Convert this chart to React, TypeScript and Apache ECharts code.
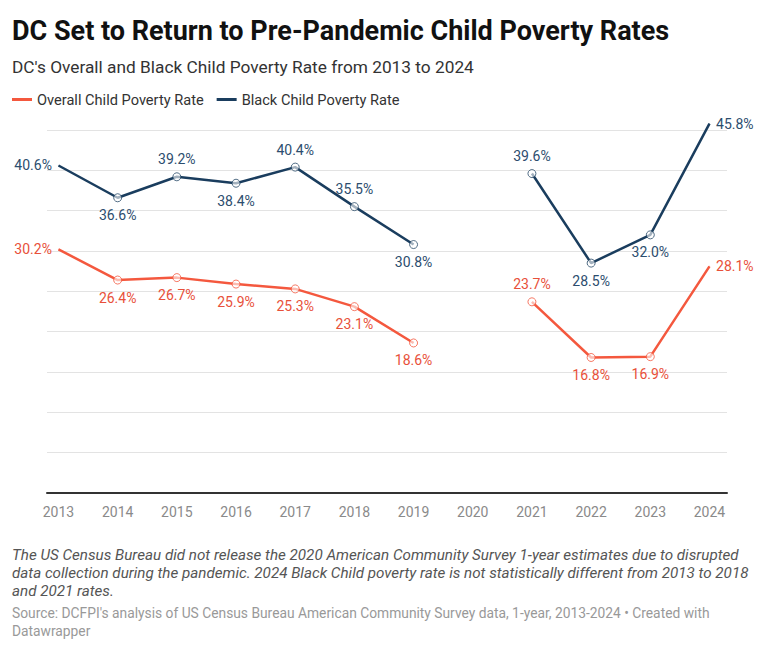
import React, { useEffect, useRef } from "react";
import * as echarts from "echarts";

const years = [2013, 2014, 2015, 2016, 2017, 2018, 2019, 2020, 2021, 2022, 2023, 2024];
const overall: (number | null)[] = [30.2, 26.4, 26.7, 25.9, 25.3, 23.1, 18.6, null, 23.7, 16.8, 16.9, 28.1];
const black: (number | null)[] = [40.6, 36.6, 39.2, 38.4, 40.4, 35.5, 30.8, null, 39.6, 28.5, 32.0, 45.8];
const overallLabelPos = ["left", "bottom", "bottom", "bottom", "bottom", "bottom", "bottom", "", "top", "bottom", "bottom", "right"];
const blackLabelPos = ["left", "bottom", "top", "bottom", "top", "top", "bottom", "", "top", "bottom", "bottom", "right"];

const seriesNames = ["Overall Child Poverty Rate", "Black Child Poverty Rate"];
const title = "DC Set to Return to Pre-Pandemic Child Poverty Rates";
const subtitle = "DC's Overall and Black Child Poverty Rate from 2013 to 2024";
const note =
  "The US Census Bureau did not release the 2020 American Community Survey 1-year estimates due to disrupted\ndata collection during the pandemic. 2024 Black Child poverty rate is not statistically different from 2013 to 2018\nand 2021 rates.";
const source =
  "Source: DCFPI's analysis of US Census Bureau American Community Survey data, 1-year, 2013-2024 • Created with\nDatawrapper";

const RED = "#f4583e";
const RED_TEXT = "#e8503a";
const NAVY = "#1a3d5e";
const NAVY_TEXT = "#2c4d6e";
const FONT = "Roboto, 'Noto Sans', sans-serif";

function buildData(vals: (number | null)[], pos: string[], textColor: string) {
  return vals.map((v, i) => {
    if (v === null) return { value: [years[i], "-"] };
    const isEnd = i === 0 || i === vals.length - 1;
    return {
      value: [years[i], v],
      symbol: "circle",
      symbolSize: isEnd ? 0.1 : 8,
      label: { show: true, position: pos[i], color: textColor },
    };
  });
}

export default function App() {
  const ref = useRef<HTMLDivElement>(null);
  useEffect(() => {
    if (!ref.current) return;
    const chart = echarts.init(ref.current, undefined, { renderer: "svg" });
    const labelBase = {
      show: true,
      fontFamily: FONT,
      fontSize: 14,
      distance: 6,
      formatter: (p: any) => Number(p.value[1]).toFixed(1) + "%",
    };
    const gridColors = ["rgba(0,0,0,0)"].concat(new Array(9).fill("#e3e3e3"));
    chart.setOption({
      animation: false,
      backgroundColor: "#ffffff",
      textStyle: { fontFamily: FONT },
      grid: { left: 47, right: 41, top: 130, bottom: 155 },
      legend: {
        left: 12,
        top: 92,
        padding: 0,
        itemWidth: 20,
        itemHeight: 3,
        itemGap: 13,
        icon: "rect",
        textStyle: { fontFamily: FONT, fontSize: 14.6, color: "#333333" },
        data: [
          { name: seriesNames[0], itemStyle: { color: RED, borderWidth: 0 } },
          { name: seriesNames[1], itemStyle: { color: NAVY, borderWidth: 0 } },
        ],
      },
      xAxis: {
        type: "value",
        min: 2012.806,
        max: 2024.296,
        splitLine: { show: false },
        axisTick: { show: false },
        axisLine: { show: true, lineStyle: { color: "#333333", width: 2 } },
        axisLabel: {
          customValues: years,
          formatter: (v: number) => String(v),
          color: "#8a8a8a",
          fontSize: 14,
          fontFamily: FONT,
          margin: 12,
        },
      },
      yAxis: {
        type: "value",
        min: 0,
        max: 45,
        interval: 5,
        axisLabel: { show: false },
        axisLine: { show: false },
        axisTick: { show: false },
        splitLine: { show: true, lineStyle: { color: gridColors, width: 1 } },
      },
      series: [
        {
          name: seriesNames[0],
          type: "line",
          color: RED,
          clip: false,
          connectNulls: false,
          symbolSize: 8,
          lineStyle: { width: 2.5, color: RED },
          itemStyle: { color: "rgba(255,255,255,0.6)", borderColor: "rgba(244,88,62,0.8)", borderWidth: 1 },
          label: labelBase,
          data: buildData(overall, overallLabelPos, RED_TEXT),
          z: 3,
        },
        {
          name: seriesNames[1],
          type: "line",
          color: NAVY,
          clip: false,
          connectNulls: false,
          symbolSize: 8,
          lineStyle: { width: 2.5, color: NAVY },
          itemStyle: { color: "rgba(255,255,255,0.6)", borderColor: "rgba(26,61,94,0.75)", borderWidth: 1 },
          label: labelBase,
          data: buildData(black, blackLabelPos, NAVY_TEXT),
          z: 4,
        },
      ],
      graphic: [
        {
          type: "text",
          left: 12,
          top: 17,
          style: { text: title, fontFamily: FONT, fontSize: 27, fontWeight: "bold", fill: "#111111" },
        },
        {
          type: "text",
          left: 12,
          top: 58,
          style: { text: subtitle, fontFamily: FONT, fontSize: 17.3, fill: "#333333" },
        },
        {
          type: "text",
          left: 12,
          top: 546,
          style: {
            text: note,
            fontFamily: FONT,
            fontSize: 15.2,
            fontStyle: "italic",
            lineHeight: 18,
            fill: "#555555",
          },
        },
        {
          type: "text",
          left: 12,
          top: 604,
          style: { text: source, fontFamily: FONT, fontSize: 13.8, lineHeight: 18, fill: "#999999" },
        },
      ],
    });
    return () => chart.dispose();
  }, []);
  return (
    <div
      ref={ref}
      style={{ position: "fixed", left: 0, top: 0, width: 768, height: 648, background: "#fff" }}
    />
  );
}
